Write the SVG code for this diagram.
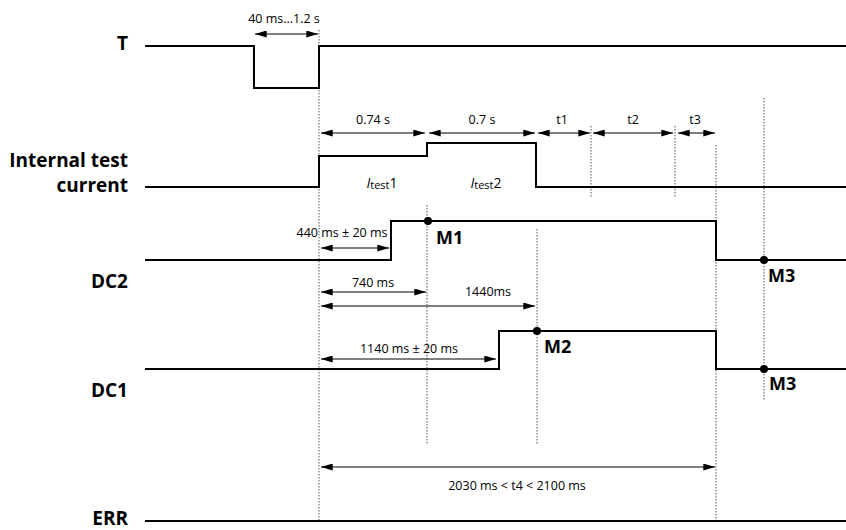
<svg xmlns="http://www.w3.org/2000/svg" width="846" height="530" viewBox="0 0 846 530">
<style>
.sig{fill:none;stroke:#000;stroke-width:2;stroke-linejoin:miter}
.dim{fill:none;stroke:#000;stroke-width:1;marker-start:url(#ah);marker-end:url(#ah)}
.dot{fill:none;stroke:#555;stroke-width:1;stroke-dasharray:1.5,1.5}
.lbl{font-family:"Open Sans","Liberation Sans",sans-serif;font-weight:bold;font-size:19px;fill:#000;text-anchor:end}
.mk{font-family:"Open Sans","Liberation Sans",sans-serif;font-weight:bold;font-size:18px;fill:#000}
.t{font-family:"Open Sans","Liberation Sans",sans-serif;font-size:12.5px;fill:#000;text-anchor:middle}
.it{font-family:"Open Sans","Liberation Sans",sans-serif;font-size:14px;fill:#000;text-anchor:middle}
</style>
<defs>
<marker id="ah" viewBox="0 0 10 6" refX="10" refY="3" markerWidth="12" markerHeight="7" markerUnits="userSpaceOnUse" orient="auto-start-reverse">
<path d="M0,0 L10,3 L0,6 Z" fill="#000"/>
</marker>
</defs>
<g id="guides">
<line class="dot" x1="319" y1="30" x2="319" y2="521"/>
<line class="dot" x1="427" y1="205" x2="427" y2="445"/>
<line class="dot" x1="537" y1="229" x2="537" y2="445"/>
<line class="dot" x1="591" y1="126" x2="591" y2="198"/>
<line class="dot" x1="675" y1="126" x2="675" y2="198"/>
<line class="dot" x1="716" y1="145" x2="716" y2="521"/>
<line class="dot" x1="764" y1="98" x2="764" y2="400"/>
</g>
<g id="T">
<text class="lbl" x="128" y="50">T</text>
<path class="sig" d="M145,46 H254 V88 H319 V46 H846"/>
</g>
<g id="ITC">
<text class="lbl" x="128" y="167">Internal test</text>
<text class="lbl" x="128" y="192">current</text>
<path class="sig" d="M145,187 H319 V156 H427 V143 H536 V187 H846"/>
<text class="it" x="382" y="188"><tspan font-style="italic">I</tspan><tspan font-size="11" dy="1">test</tspan><tspan dy="-1">1</tspan></text>
<text class="it" x="486" y="188"><tspan font-style="italic">I</tspan><tspan font-size="11" dy="1">test</tspan><tspan dy="-1">2</tspan></text>
</g>
<g id="DC2">
<text class="lbl" x="128" y="288">DC2</text>
<path class="sig" d="M145,260 H391 V221 H716 V260 H846"/>
<circle cx="428" cy="221" r="4" fill="#000"/>
<text class="mk" x="436" y="244">M1</text>
<circle cx="764" cy="260" r="4" fill="#000"/>
<text class="mk" x="768" y="282">M3</text>
</g>
<g id="DC1">
<text class="lbl" x="128" y="397">DC1</text>
<path class="sig" d="M145,369 H499 V331 H716 V369 H846"/>
<circle cx="537" cy="331" r="4" fill="#000"/>
<text class="mk" x="544" y="353">M2</text>
<circle cx="764" cy="369" r="4" fill="#000"/>
<text class="mk" x="769" y="390">M3</text>
</g>
<g id="ERR">
<text class="lbl" x="128" y="525" font-size="18">ERR</text>
<path class="sig" d="M145,521 H846"/>
</g>
<g id="connectors">
<line class="dim" x1="255" y1="34" x2="318" y2="34"/>
<text class="t" x="284" y="23">40 ms…1.2 s</text>
<line class="dim" x1="321" y1="133" x2="425" y2="133"/>
<text class="t" x="373" y="124">0.74 s</text>
<line class="dim" x1="429" y1="133" x2="535" y2="133"/>
<text class="t" x="482" y="124">0.7 s</text>
<line class="dim" x1="538" y1="133" x2="590" y2="133"/>
<text class="t" x="562" y="124">t1</text>
<line class="dim" x1="593" y1="133" x2="673" y2="133"/>
<text class="t" x="633" y="124">t2</text>
<line class="dim" x1="678" y1="133" x2="715" y2="133"/>
<text class="t" x="695" y="124">t3</text>
<line class="dim" x1="321" y1="248" x2="389" y2="248"/>
<text class="t" x="342" y="237">440 ms ± 20 ms</text>
<line class="dim" x1="321" y1="292" x2="426" y2="292"/>
<text class="t" x="373" y="287">740 ms</text>
<line class="dim" x1="321" y1="306" x2="535" y2="306"/>
<text class="t" x="488" y="296">1440ms</text>
<line class="dim" x1="321" y1="359" x2="496" y2="359"/>
<text class="t" x="409" y="353">1140 ms ± 20 ms</text>
<line class="dim" x1="321" y1="467" x2="715" y2="467"/>
<text class="t" x="517" y="490">2030 ms &lt; t4 &lt; 2100 ms</text>
</g>
</svg>
